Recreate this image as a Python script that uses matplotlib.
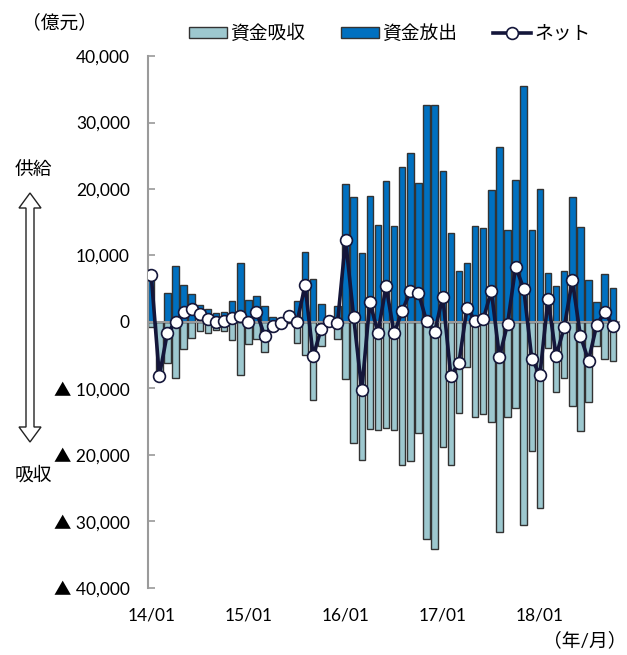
import matplotlib
matplotlib.use("Agg")
import matplotlib.pyplot as plt
from matplotlib.patches import Patch, Polygon
from matplotlib.lines import Line2D
from matplotlib.ticker import FuncFormatter

plt.rcParams["font.family"] = ["Lato", "Noto Sans CJK JP", "DejaVu Sans"]

# monthly, 2014/01 - 2018/10 (億元)
supply = [
    7700, 0, 4400, 8400, 5500, 4150, 2600, 2000, 1300, 1550, 3150, 8800,
    3250, 3950, 2450, 750, 300, 1100, 3200, 10500, 6450, 2700, 400, 2350,
    20800, 18750, 10350, 19000, 14600, 21150, 14500, 23250, 25450, 20850, 32600, 32600,
    22750, 13350, 7650, 8800, 14450, 14200, 19800, 26350, 13900, 21300, 35550, 13800,
    20050, 7300, 5400, 7650, 18800, 14250, 6250, 3000, 7150, 5150,
]
absorb = [
    -700, -8200, -6150, -8400, -4100, -2350, -1350, -1650, -1250, -1350, -2650, -7900,
    -3300, -2550, -4500, -1300, -400, -200, -3150, -5000, -11700, -3650, -250, -2500,
    -8500, -18200, -20700, -16150, -16250, -15900, -16250, -21550, -20950, -16650, -32600, -34100,
    -18850, -21450, -13750, -6700, -14350, -13850, -15100, -31550, -14250, -13000, -30600, -19400,
    -28000, -3950, -10500, -8450, -12600, -16400, -12050, -3600, -5600, -5850,
]
net = [
    7000, -8100, -1600, 0, 1500, 2000, 1250, 400, 0, 200, 650, 950,
    0, 1500, -2050, -550, -100, 900, 0, 5500, -5150, -1000, 150, -150,
    12350, 700, -10250, 3000, -1600, 5350, -1700, 1700, 4600, 4400, 100, -1500,
    3800, -8100, -6100, 2150, 200, 400, 4700, -5250, -300, 8300, 5000, -5600,
    -7900, 3400, -5100, -800, 6300, -2100, -5800, -500, 1550, -600,
]
year_labels = ["14/01", "15/01", "16/01", "17/01", "18/01"]

LIGHT = "#9dc8cf"
BLUE = "#0070c0"
NAVY = "#14163a"
EDGE = "#333333"
GRAY = "#9a9a9a"
FS = 12.5
JFS = 13.5

fig = plt.figure(figsize=(6.27, 6.55), dpi=100)
ax = fig.add_axes([0.236, 0.1023, 0.753, 0.8122])

x = list(range(len(net)))
ax.bar(x, absorb, width=0.8, color=LIGHT, edgecolor=EDGE, linewidth=1, zorder=2)
ax.bar(x, supply, width=0.8, color=BLUE, edgecolor=EDGE, linewidth=1, zorder=2)
ax.axhline(0, color=GRAY, linewidth=1.5, zorder=3)
ax.plot(x, net, color=NAVY, linewidth=2.6, marker="o", markersize=8.5,
        markerfacecolor="white", markeredgecolor=NAVY, markeredgewidth=1.2, zorder=4)

ax.set_xlim(-0.4, 57.9)
ax.set_ylim(-40000, 40000)
ax.set_yticks(range(-40000, 40001, 10000))


def fmt(v, _pos):
    v = int(round(v))
    if v < 0:
        return f"▲ {-v:,}"
    return f"{v:,}"


ax.yaxis.set_major_formatter(FuncFormatter(fmt))
ax.set_xticks(range(0, len(net), 12))
ax.set_xticklabels(year_labels)

for side in ("top", "right", "bottom"):
    ax.spines[side].set_visible(False)
ax.spines["left"].set_color(GRAY)
ax.spines["left"].set_linewidth(1.5)
ax.tick_params(axis="y", direction="in", length=5, width=1.2, color=GRAY,
               labelsize=FS, pad=13)
ax.tick_params(axis="x", length=0, labelsize=FS, pad=14)

# unit captions
fig.text(22 / 627, 1 - 22 / 655, "（億元）", fontsize=JFS, va="center", ha="left")
fig.text(627 / 627, 1 - 640 / 655, "（年/月）", fontsize=JFS, va="center", ha="right")

# supply / absorption double arrow on the left margin
W, H = 627, 655
cx, top, bot = 30, 193, 442
sw, hw, hl = 4, 11, 15
pts = [
    (cx, top), (cx + hw, top + hl), (cx + sw, top + hl), (cx + sw, bot - hl),
    (cx + hw, bot - hl), (cx, bot), (cx - hw, bot - hl), (cx - sw, bot - hl),
    (cx - sw, top + hl), (cx - hw, top + hl),
]
arrow = Polygon([(px / W, 1 - py / H) for px, py in pts], closed=True,
                transform=fig.transFigure, facecolor="white", edgecolor="#222222",
                linewidth=1.0)
fig.patches.append(arrow)
fig.text(33 / W, 1 - 170 / H, "供給", fontsize=JFS, ha="center", va="center")
fig.text(33 / W, 1 - 475 / H, "吸収", fontsize=JFS, ha="center", va="center")

handles = [
    Patch(facecolor=LIGHT, edgecolor=EDGE, linewidth=1),
    Patch(facecolor=BLUE, edgecolor=EDGE, linewidth=1),
    Line2D([], [], color=NAVY, linewidth=2.6, marker="o", markersize=8.5,
           markerfacecolor="white", markeredgecolor=NAVY, markeredgewidth=1.2),
]
fig.legend(handles, ["資金吸収", "資金放出", "ネット"], loc="center",
           bbox_to_anchor=(390 / W, 1 - 33 / H), ncol=3, frameon=False,
           fontsize=JFS, handlelength=2.0, handleheight=0.6, handletextpad=0.2,
           columnspacing=1.9)

fig.savefig("out.png", dpi=100)
